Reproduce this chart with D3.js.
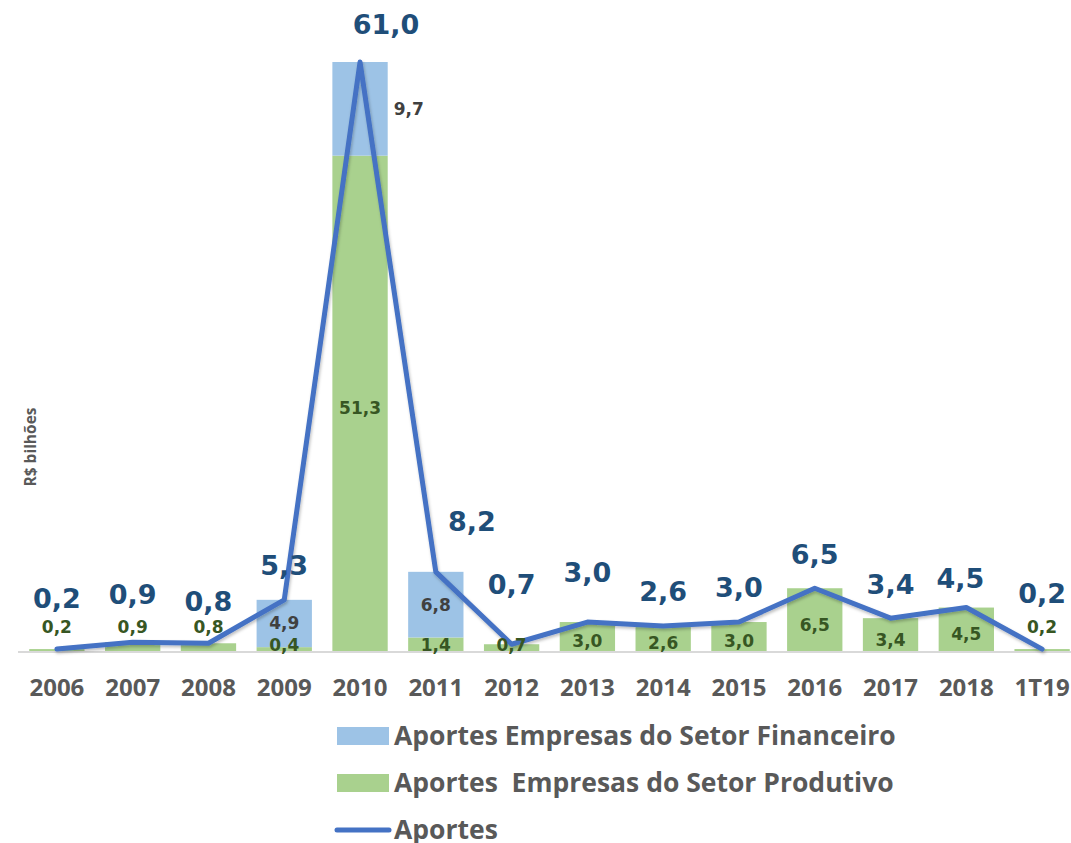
<!DOCTYPE html>
<html>
<head>
<meta charset="utf-8">
<script src="https://cdn.jsdelivr.net/npm/d3@7"></script>
<style>
  body { margin: 0; background: #fff; }
  svg { display: block; }
</style>
</head>
<body>
<div id="chart"></div>
<script>
// chart values (R$ bilhões)
var categories = ["2006", "2007", "2008", "2009", "2010", "2011", "2012", "2013", "2014", "2015", "2016", "2017", "2018", "1T19"];
var produtivo  = [0.2, 0.9, 0.8, 0.4, 51.3, 1.4, 0.7, 3.0, 2.6, 3.0, 6.5, 3.4, 4.5, 0.2];
var financeiro = [0, 0, 0, 4.9, 9.7, 6.8, 0, 0, 0, 0, 0, 0, 0, 0];
var aportes    = [0.2, 0.9, 0.8, 5.3, 61.0, 8.2, 0.7, 3.0, 2.6, 3.0, 6.5, 3.4, 4.5, 0.2];
var legendLabels = ["Aportes Empresas do Setor Financeiro", "Aportes  Empresas do Setor Produtivo", "Aportes"];

// hand placed label nudges, as the labels were dragged in the original
var totalNudge = {"2006": [0, -17], "2007": [0, -14], "2008": [0, -8], "2010": [26, -3], "2011": [36, -16],
                  "2012": [0, -26], "2013": [0, -15], "2018": [-6, 5], "1T19": [0, -22]};
var prodAbove = ["2006", "2007", "2008", "1T19"];

var width = 1071, height = 843;
var colors = {fin: "#9DC3E6", prod: "#A9D18E", line: "#4472C4", total: "#1F4E79", prodText: "#375623", finText: "#404040", axis: "#595959"};

var svg = d3.select("#chart").append("svg")
    .attr("width", width)
    .attr("height", height);

var defs = svg.append("defs");
var shadow = defs.append("filter").attr("id", "shadow")
    .attr("x", "-10%").attr("y", "-10%").attr("width", "120%").attr("height", "120%");
shadow.append("feDropShadow")
    .attr("dx", 1).attr("dy", 2).attr("stdDeviation", 1.5)
    .attr("flood-color", "#000").attr("flood-opacity", 0.25);

var x = d3.scaleBand()
    .domain(categories)
    .range([19, 1080])
    .paddingInner(0.27)
    .paddingOuter(0.135);

var y = d3.scaleLinear()
    .domain([0, 61])
    .range([651, 62]);

var rows = categories.map(function(c, i) {
  return {cat: c, prod: produtivo[i], fin: financeiro[i], total: aportes[i]};
});

// stacked bars
var bars = svg.append("g");
bars.selectAll(".prod").data(rows).enter().append("rect")
    .attr("x", function(d) { return x(d.cat); })
    .attr("y", function(d) { return y(d.prod); })
    .attr("width", x.bandwidth())
    .attr("height", function(d) { return y(0) - y(d.prod); })
    .attr("fill", colors.prod);
bars.selectAll(".fin").data(rows.filter(function(d) { return d.fin > 0; })).enter().append("rect")
    .attr("x", function(d) { return x(d.cat); })
    .attr("y", function(d) { return y(d.prod + d.fin); })
    .attr("width", x.bandwidth())
    .attr("height", function(d) { return y(d.prod) - y(d.prod + d.fin); })
    .attr("fill", colors.fin);

// baseline
svg.append("line")
    .attr("x1", 18).attr("x2", width)
    .attr("y1", y(0) + 1).attr("y2", y(0) + 1)
    .attr("stroke", "#D9D9D9").attr("stroke-width", 2);

// x axis
var xAxis = svg.append("g")
    .attr("transform", "translate(0," + (y(0) + 8) + ")")
    .call(d3.axisBottom(x).tickSize(0).tickPadding(20));
xAxis.select(".domain").remove();
xAxis.selectAll("text")
    .attr("fill", colors.axis)
    .style("font-family", "'Open Sans', sans-serif")
    .style("font-weight", "bold")
    .style("font-size", "24px");

// y axis title
svg.append("text")
    .attr("transform", "translate(36,447) rotate(-90)")
    .attr("text-anchor", "middle")
    .attr("fill", colors.axis)
    .style("font-family", "'Open Sans', sans-serif")
    .style("font-weight", "bold")
    .style("font-size", "15.5px")
    .text("R$ bilhões");

// line
var line = d3.line()
    .x(function(d) { return x(d.cat) + x.bandwidth() / 2; })
    .y(function(d) { return y(d.total); });
svg.append("path")
    .datum(rows)
    .attr("d", line)
    .attr("fill", "none")
    .attr("stroke", colors.line)
    .attr("stroke-width", 5)
    .attr("stroke-linejoin", "round")
    .attr("stroke-linecap", "round")
    .attr("filter", "url(#shadow)");

var labelFont = "'DejaVu Sans', sans-serif";
var fmt = function(v) { return d3.format(".1f")(v).replace(".", ","); };

// produtivo labels
svg.append("g").selectAll("text").data(rows).enter().append("text")
    .attr("x", function(d) { return x(d.cat) + x.bandwidth() / 2; })
    .attr("y", function(d) {
      if (prodAbove.indexOf(d.cat) >= 0) return y(0) - 24;
      return Math.min((y(0) + y(d.prod)) / 2 + 5, y(0) - 6);
    })
    .attr("dy", "0.35em")
    .attr("text-anchor", "middle")
    .attr("fill", colors.prodText)
    .style("font-family", labelFont)
    .style("font-weight", "bold")
    .style("font-size", "17px")
    .text(function(d) { return fmt(d.prod); });

// financeiro labels
var peak = d3.max(aportes);
svg.append("g").selectAll("text").data(rows.filter(function(d) { return d.fin > 0; })).enter().append("text")
    .attr("x", function(d) { return d.total === peak ? x(d.cat) + x.bandwidth() + 6 : x(d.cat) + x.bandwidth() / 2; })
    .attr("y", function(d) { return (y(d.prod) + y(d.prod + d.fin)) / 2; })
    .attr("dy", "0.35em")
    .attr("text-anchor", function(d) { return d.total === peak ? "start" : "middle"; })
    .attr("fill", colors.finText)
    .style("font-family", labelFont)
    .style("font-weight", "bold")
    .style("font-size", "17px")
    .text(function(d) { return fmt(d.fin); });

// total labels
svg.append("g").selectAll("text").data(rows).enter().append("text")
    .attr("x", function(d) { return x(d.cat) + x.bandwidth() / 2 + (totalNudge[d.cat] || [0, 0])[0]; })
    .attr("y", function(d) { return y(d.total) - 34 + (totalNudge[d.cat] || [0, 0])[1]; })
    .attr("dy", "0.35em")
    .attr("text-anchor", "middle")
    .attr("fill", colors.total)
    .style("font-family", labelFont)
    .style("font-weight", "bold")
    .style("font-size", "27px")
    .text(function(d) { return fmt(d.total); });

// legend
var legend = svg.append("g").attr("transform", "translate(337,736)");
var items = legend.selectAll("g").data(legendLabels).enter().append("g")
    .attr("transform", function(d, i) { return "translate(0," + (i * 47) + ")"; });
items.each(function(d, i) {
  var g = d3.select(this);
  if (i < 2) {
    g.append("rect").attr("x", 0).attr("y", -9).attr("width", 52).attr("height", 18)
        .attr("fill", i === 0 ? colors.fin : colors.prod);
  } else {
    g.append("line").attr("x1", 0).attr("x2", 52).attr("y1", 0).attr("y2", 0)
        .attr("stroke", colors.line).attr("stroke-width", 5).attr("stroke-linecap", "round");
  }
});
items.append("text")
    .attr("x", 57)
    .attr("y", 0)
    .attr("dy", "0.35em")
    .attr("fill", colors.axis)
    .style("font-family", "'Open Sans', sans-serif")
    .style("font-weight", "bold")
    .style("font-size", "26.5px")
    .style("white-space", "pre")
    .text(function(d) { return d; });
</script>
</body>
</html>
